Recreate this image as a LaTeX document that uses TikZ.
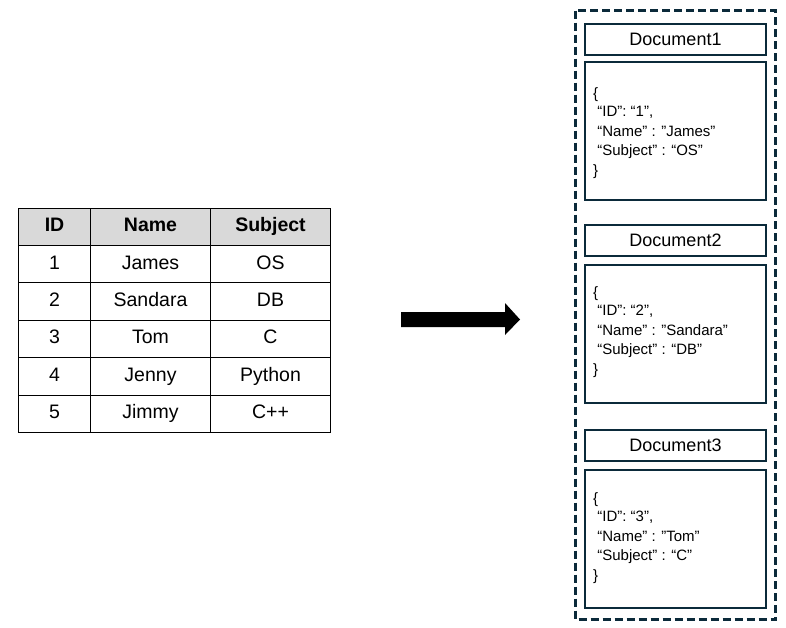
\documentclass[tikz,border=0pt]{standalone}
\usepackage{fontspec}
\setmainfont{Liberation Sans}
\definecolor{dk}{HTML}{0B2A3A}
\definecolor{hdr}{HTML}{D9D9D9}
\tikzset{
  cell/.style={draw=black, line width=1pt, minimum height=37.4pt, inner sep=0pt, text height=14pt, text depth=4pt, anchor=north west, font=\fontsize{19.5}{21}\selectfont},
  hcell/.style={cell, fill=hdr, font=\fontsize{19.5}{21}\selectfont\bfseries},
  titlebox/.style={draw=dk, line width=2pt, minimum width=181pt, minimum height=31pt, inner sep=0pt, font=\fontsize{18}{20}\selectfont},
  contentbox/.style={draw=dk, line width=2pt, minimum width=181pt, minimum height=138pt, inner sep=0pt},
  json/.style={align=left, anchor=west, inner sep=0pt, font=\fontsize{15}{19.5}\selectfont},
  outerbox/.style={draw=dk, line width=3pt, dash pattern=on 8pt off 4pt},
}
\begin{document}
\begin{tikzpicture}[x=1pt,y=-1pt]
\useasboundingbox (0,0) rectangle (786,627);
% table
\foreach \t/\x/\w/\nm in {ID/18/72/a, Name/90/120/b, Subject/210/120/c}{
  \node[hcell, minimum width=\w pt] (h\nm) at (\x,207.5) {\t};
}
\foreach \i/\n/\s [count=\r] in {1/James/OS, 2/Sandara/DB, 3/Tom/C, 4/Jenny/Python, 5/Jimmy/C++}{
  \pgfmathsetmacro{\yy}{207.5+37.4*\r}
  \node[cell, minimum width=72pt] (ra\r) at (18,\yy) {\i};
  \node[cell, minimum width=120pt] (rb\r) at (90,\yy) {\n};
  \node[cell, minimum width=120pt] (rc\r) at (210,\yy) {\s};
}
% arrow
\fill[black] (401,312) -- (505,312) -- (505,303) -- (520,319.5) -- (505,335) -- (505,327) -- (401,327) -- cycle;
% outer dashed
\draw[outerbox] (575.5,10.5) rectangle (775.5,619.5);
% documents
\node[titlebox] (t1) at (675.5,39) {Document1};
\node[contentbox] (c1) at (675.5,131) {};
\node[json] (j1) at (593,133) {\{\\[-1pt] \ “ID”: “1”,\\ \ “Name” : ”James”\\ \ “Subject” : “OS”\\ \}};
\node[titlebox] (t2) at (675.5,240.5) {Document2};
\node[contentbox] (c2) at (675.5,333.5) {};
\node[json] (j2) at (593,332) {\{\\[-1pt] \ “ID”: “2”,\\ \ “Name” : ”Sandara”\\ \ “Subject” : “DB”\\ \}};
\node[titlebox] (t3) at (675.5,445.5) {Document3};
\node[contentbox] (c3) at (675.5,538.5) {};
\node[json] (j3) at (593,538) {\{\\[-1pt] \ “ID”: “3”,\\ \ “Name” : ”Tom”\\ \ “Subject” : “C”\\ \}};
\end{tikzpicture}
\end{document}
